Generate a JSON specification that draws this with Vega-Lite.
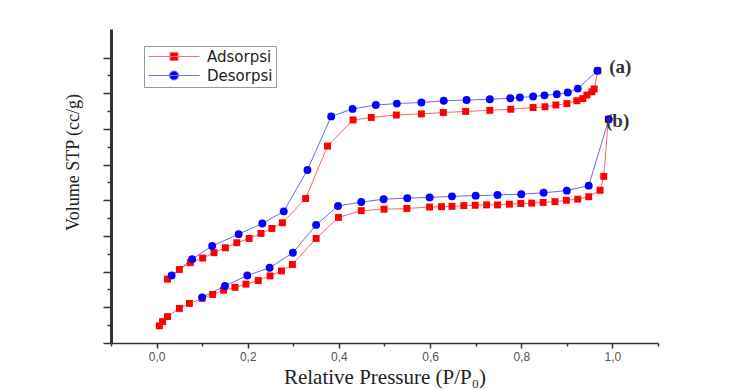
{
  "$schema": "https://vega.github.io/schema/vega-lite/v6.json",
  "width": 547,
  "height": 314,
  "autosize": {"type": "none"},
  "padding": {"left": 111, "top": 29, "right": 78, "bottom": 46},
  "background": "white",
  "config": {
    "view": {"stroke": null},
    "axis": {"grid": false, "domainColor": "#333333", "tickColor": "#333333", "labelColor": "#555555", "titleColor": "#222222", "titleFontWeight": "normal"},
    "legend": {"labelFont": "DejaVu Sans, Verdana, sans-serif", "labelFontSize": 15, "labelColor": "#222222", "strokeColor": "#999999", "fillColor": "#ffffff"}
  },
  "datasets": {
    "iso": [
      {"series": "Adsorpsi", "curve": "a", "p": 0.024, "v": 1.79},
      {"series": "Adsorpsi", "curve": "a", "p": 0.050, "v": 2.06},
      {"series": "Adsorpsi", "curve": "a", "p": 0.074, "v": 2.25},
      {"series": "Adsorpsi", "curve": "a", "p": 0.101, "v": 2.38},
      {"series": "Adsorpsi", "curve": "a", "p": 0.126, "v": 2.53},
      {"series": "Adsorpsi", "curve": "a", "p": 0.151, "v": 2.67},
      {"series": "Adsorpsi", "curve": "a", "p": 0.176, "v": 2.81},
      {"series": "Adsorpsi", "curve": "a", "p": 0.203, "v": 2.93},
      {"series": "Adsorpsi", "curve": "a", "p": 0.229, "v": 3.07},
      {"series": "Adsorpsi", "curve": "a", "p": 0.253, "v": 3.21},
      {"series": "Adsorpsi", "curve": "a", "p": 0.276, "v": 3.37},
      {"series": "Adsorpsi", "curve": "a", "p": 0.327, "v": 4.05},
      {"series": "Adsorpsi", "curve": "a", "p": 0.375, "v": 5.52},
      {"series": "Adsorpsi", "curve": "a", "p": 0.431, "v": 6.25},
      {"series": "Adsorpsi", "curve": "a", "p": 0.471, "v": 6.32},
      {"series": "Adsorpsi", "curve": "a", "p": 0.526, "v": 6.39},
      {"series": "Adsorpsi", "curve": "a", "p": 0.581, "v": 6.42},
      {"series": "Adsorpsi", "curve": "a", "p": 0.629, "v": 6.46},
      {"series": "Adsorpsi", "curve": "a", "p": 0.678, "v": 6.49},
      {"series": "Adsorpsi", "curve": "a", "p": 0.731, "v": 6.52},
      {"series": "Adsorpsi", "curve": "a", "p": 0.777, "v": 6.55},
      {"series": "Adsorpsi", "curve": "a", "p": 0.826, "v": 6.60},
      {"series": "Adsorpsi", "curve": "a", "p": 0.852, "v": 6.62},
      {"series": "Adsorpsi", "curve": "a", "p": 0.876, "v": 6.67},
      {"series": "Adsorpsi", "curve": "a", "p": 0.900, "v": 6.71},
      {"series": "Adsorpsi", "curve": "a", "p": 0.922, "v": 6.79},
      {"series": "Adsorpsi", "curve": "a", "p": 0.935, "v": 6.85},
      {"series": "Adsorpsi", "curve": "a", "p": 0.944, "v": 6.95},
      {"series": "Adsorpsi", "curve": "a", "p": 0.955, "v": 7.04},
      {"series": "Adsorpsi", "curve": "a", "p": 0.960, "v": 7.12},
      {"series": "Adsorpsi", "curve": "a", "p": 0.968, "v": 7.63},
      {"series": "Desorpsi", "curve": "a", "p": 0.033, "v": 1.89},
      {"series": "Desorpsi", "curve": "a", "p": 0.078, "v": 2.35},
      {"series": "Desorpsi", "curve": "a", "p": 0.122, "v": 2.72},
      {"series": "Desorpsi", "curve": "a", "p": 0.180, "v": 3.05},
      {"series": "Desorpsi", "curve": "a", "p": 0.232, "v": 3.35},
      {"series": "Desorpsi", "curve": "a", "p": 0.279, "v": 3.69},
      {"series": "Desorpsi", "curve": "a", "p": 0.331, "v": 4.85},
      {"series": "Desorpsi", "curve": "a", "p": 0.383, "v": 6.35},
      {"series": "Desorpsi", "curve": "a", "p": 0.430, "v": 6.56},
      {"series": "Desorpsi", "curve": "a", "p": 0.481, "v": 6.67},
      {"series": "Desorpsi", "curve": "a", "p": 0.527, "v": 6.71},
      {"series": "Desorpsi", "curve": "a", "p": 0.581, "v": 6.74},
      {"series": "Desorpsi", "curve": "a", "p": 0.630, "v": 6.79},
      {"series": "Desorpsi", "curve": "a", "p": 0.680, "v": 6.81},
      {"series": "Desorpsi", "curve": "a", "p": 0.731, "v": 6.83},
      {"series": "Desorpsi", "curve": "a", "p": 0.776, "v": 6.86},
      {"series": "Desorpsi", "curve": "a", "p": 0.797, "v": 6.88},
      {"series": "Desorpsi", "curve": "a", "p": 0.826, "v": 6.91},
      {"series": "Desorpsi", "curve": "a", "p": 0.851, "v": 6.94},
      {"series": "Desorpsi", "curve": "a", "p": 0.878, "v": 6.97},
      {"series": "Desorpsi", "curve": "a", "p": 0.902, "v": 7.02},
      {"series": "Desorpsi", "curve": "a", "p": 0.924, "v": 7.13},
      {"series": "Desorpsi", "curve": "a", "p": 0.967, "v": 7.63},
      {"series": "Adsorpsi", "curve": "b", "p": 0.006, "v": 0.48},
      {"series": "Adsorpsi", "curve": "b", "p": 0.013, "v": 0.60},
      {"series": "Adsorpsi", "curve": "b", "p": 0.024, "v": 0.74},
      {"series": "Adsorpsi", "curve": "b", "p": 0.050, "v": 0.97},
      {"series": "Adsorpsi", "curve": "b", "p": 0.072, "v": 1.11},
      {"series": "Adsorpsi", "curve": "b", "p": 0.100, "v": 1.25},
      {"series": "Adsorpsi", "curve": "b", "p": 0.123, "v": 1.36},
      {"series": "Adsorpsi", "curve": "b", "p": 0.147, "v": 1.48},
      {"series": "Adsorpsi", "curve": "b", "p": 0.172, "v": 1.56},
      {"series": "Adsorpsi", "curve": "b", "p": 0.196, "v": 1.65},
      {"series": "Adsorpsi", "curve": "b", "p": 0.223, "v": 1.75},
      {"series": "Adsorpsi", "curve": "b", "p": 0.249, "v": 1.88},
      {"series": "Adsorpsi", "curve": "b", "p": 0.274, "v": 2.02},
      {"series": "Adsorpsi", "curve": "b", "p": 0.298, "v": 2.20},
      {"series": "Adsorpsi", "curve": "b", "p": 0.350, "v": 2.93},
      {"series": "Adsorpsi", "curve": "b", "p": 0.399, "v": 3.52},
      {"series": "Adsorpsi", "curve": "b", "p": 0.449, "v": 3.71},
      {"series": "Adsorpsi", "curve": "b", "p": 0.499, "v": 3.75},
      {"series": "Adsorpsi", "curve": "b", "p": 0.549, "v": 3.77},
      {"series": "Adsorpsi", "curve": "b", "p": 0.599, "v": 3.81},
      {"series": "Adsorpsi", "curve": "b", "p": 0.625, "v": 3.82},
      {"series": "Adsorpsi", "curve": "b", "p": 0.648, "v": 3.83},
      {"series": "Adsorpsi", "curve": "b", "p": 0.674, "v": 3.85},
      {"series": "Adsorpsi", "curve": "b", "p": 0.699, "v": 3.86},
      {"series": "Adsorpsi", "curve": "b", "p": 0.724, "v": 3.87},
      {"series": "Adsorpsi", "curve": "b", "p": 0.748, "v": 3.87},
      {"series": "Adsorpsi", "curve": "b", "p": 0.774, "v": 3.89},
      {"series": "Adsorpsi", "curve": "b", "p": 0.799, "v": 3.91},
      {"series": "Adsorpsi", "curve": "b", "p": 0.823, "v": 3.92},
      {"series": "Adsorpsi", "curve": "b", "p": 0.848, "v": 3.94},
      {"series": "Adsorpsi", "curve": "b", "p": 0.874, "v": 3.96},
      {"series": "Adsorpsi", "curve": "b", "p": 0.899, "v": 4.00},
      {"series": "Adsorpsi", "curve": "b", "p": 0.924, "v": 4.03},
      {"series": "Adsorpsi", "curve": "b", "p": 0.948, "v": 4.10},
      {"series": "Adsorpsi", "curve": "b", "p": 0.973, "v": 4.28},
      {"series": "Adsorpsi", "curve": "b", "p": 0.981, "v": 4.67},
      {"series": "Adsorpsi", "curve": "b", "p": 0.991, "v": 6.27},
      {"series": "Desorpsi", "curve": "b", "p": 0.100, "v": 1.28},
      {"series": "Desorpsi", "curve": "b", "p": 0.150, "v": 1.60},
      {"series": "Desorpsi", "curve": "b", "p": 0.199, "v": 1.89},
      {"series": "Desorpsi", "curve": "b", "p": 0.248, "v": 2.11},
      {"series": "Desorpsi", "curve": "b", "p": 0.299, "v": 2.53},
      {"series": "Desorpsi", "curve": "b", "p": 0.350, "v": 3.31},
      {"series": "Desorpsi", "curve": "b", "p": 0.398, "v": 3.84},
      {"series": "Desorpsi", "curve": "b", "p": 0.449, "v": 3.95},
      {"series": "Desorpsi", "curve": "b", "p": 0.498, "v": 4.03},
      {"series": "Desorpsi", "curve": "b", "p": 0.550, "v": 4.06},
      {"series": "Desorpsi", "curve": "b", "p": 0.599, "v": 4.08},
      {"series": "Desorpsi", "curve": "b", "p": 0.648, "v": 4.11},
      {"series": "Desorpsi", "curve": "b", "p": 0.700, "v": 4.13},
      {"series": "Desorpsi", "curve": "b", "p": 0.748, "v": 4.15},
      {"series": "Desorpsi", "curve": "b", "p": 0.800, "v": 4.17},
      {"series": "Desorpsi", "curve": "b", "p": 0.849, "v": 4.21},
      {"series": "Desorpsi", "curve": "b", "p": 0.900, "v": 4.27},
      {"series": "Desorpsi", "curve": "b", "p": 0.948, "v": 4.41},
      {"series": "Desorpsi", "curve": "b", "p": 0.992, "v": 6.27}
    ],
    "tags": [
      {"label": "(a)", "p": 0.993, "v": 7.73},
      {"label": "(b)", "p": 0.986, "v": 6.22}
    ],
    "frame": [{"id": 1}]
  },
  "encoding": {
    "x": {
      "field": "p", "type": "quantitative",
      "scale": {"domain": [-0.1, 1.1], "nice": false, "zero": false},
      "axis": {
        "values": [-0.1, 0, 0.1, 0.2, 0.3, 0.4, 0.5, 0.6, 0.7, 0.8, 0.9, 1.0, 1.1],
        "labelExpr": "abs(round(datum.value*10)) % 2 === 0 ? replace(format(datum.value, '.1f'), '.', ',') : ''",
        "domainWidth": 1.5, "tickWidth": 1.5,
        "tickSize": {"condition": {"test": "abs(round(datum.value*10)) % 2 === 0", "value": 5}, "value": 3},
        "labelFont": "Liberation Sans, Arial, sans-serif", "labelFontSize": 12, "labelPadding": 3,
        "title": "Relative Pressure (P/P₀)",
        "titleFont": "Liberation Serif, Times New Roman, serif", "titleFontSize": 21, "titlePadding": 4
      }
    },
    "y": {
      "field": "v", "type": "quantitative",
      "scale": {"domain": [0, 8.8], "nice": false, "zero": false},
      "axis": {
        "values": [0, 0.5, 1, 1.5, 2, 2.5, 3, 3.5, 4, 4.5, 5, 5.5, 6, 6.5, 7, 7.5, 8],
        "labels": false,
        "domainWidth": 3, "tickWidth": 1.5,
        "tickSize": {"condition": {"test": "datum.value % 1 === 0", "value": 8}, "value": 4},
        "title": "Volume STP (cc/g)",
        "titleFont": "Liberation Serif, Times New Roman, serif", "titleFontSize": 18,
        "titleAngle": -90, "titleX": -38, "titleY": 133, "titleBaseline": "middle", "titleAlign": "center"
      }
    }
  },
  "layer": [
    {
      "data": {"name": "iso"},
      "mark": {"type": "line", "strokeWidth": 1, "opacity": 0.6},
      "encoding": {
        "detail": [{"field": "curve"}, {"field": "series"}],
        "color": {"condition": {"test": "datum.series === 'Adsorpsi'", "value": "#ff0000"}, "value": "#0000ff"}
      }
    },
    {
      "data": {"name": "iso"},
      "mark": {"type": "point", "filled": true, "opacity": 1},
      "encoding": {
        "shape": {"condition": {"test": "datum.series === 'Adsorpsi'", "value": "square"}, "value": "circle"},
        "size": {"condition": {"test": "datum.series === 'Adsorpsi'", "value": 48}, "value": 62},
        "color": {"condition": {"test": "datum.series === 'Adsorpsi'", "value": "#ff0000"}, "value": "#0000ff"}
      }
    },
    {
      "data": {"name": "iso"},
      "transform": [{"filter": "datum.p > 5"}],
      "mark": {"type": "point", "filled": true, "opacity": 1},
      "encoding": {
        "shape": {
          "field": "series", "type": "nominal",
          "scale": {"domain": ["Adsorpsi", "Desorpsi"], "range": ["M-1,0H7.5M2.58,-0.67H3.92V0.67H2.58Z", "M-1,0H7.5M2.5,0A0.75,0.75 0 1,0 4.0,0A0.75,0.75 0 1,0 2.5,0Z"]}
        },
        "color": {
          "field": "series", "type": "nominal",
          "scale": {"domain": ["Adsorpsi", "Desorpsi"], "range": ["#ff0000", "#0000ff"]},
          "legend": {
            "orient": "none", "legendX": 33, "legendY": 17, "direction": "vertical",
            "title": null,
            "strokeColor": "#999999", "fillColor": "#ffffff", "padding": 3,
            "symbolSize": 144, "labelOffset": 45, "rowPadding": 3, "labelLimit": 200,
            "symbolStrokeWidth": 1, "symbolOpacity": 1,
            "encode": {
              "symbols": {
                "update": {
                  "stroke": {"signal": "datum.value === 'Adsorpsi' ? '#ff7070' : '#7070ff'"},
                  "strokeWidth": {"value": 1}
                }
              }
            }
          }
        }
      }
    },
    {
      "data": {"name": "tags"},
      "mark": {"type": "text", "align": "left", "baseline": "middle", "font": "Liberation Serif, Times New Roman, serif", "fontSize": 19, "fontWeight": "bold", "color": "#333333"},
      "encoding": {
        "text": {"field": "label"}
      }
    },
    {
      "data": {"name": "frame"},
      "mark": {"type": "rect", "filled": false, "stroke": "#000000", "strokeWidth": 3, "clip": false},
      "encoding": {
        "x": {"datum": -0.3216, "type": "quantitative"},
        "x2": {"datum": 1.6},
        "y": {"datum": 9.28, "type": "quantitative"},
        "y2": {"datum": -3}
      }
    }
  ]
}
